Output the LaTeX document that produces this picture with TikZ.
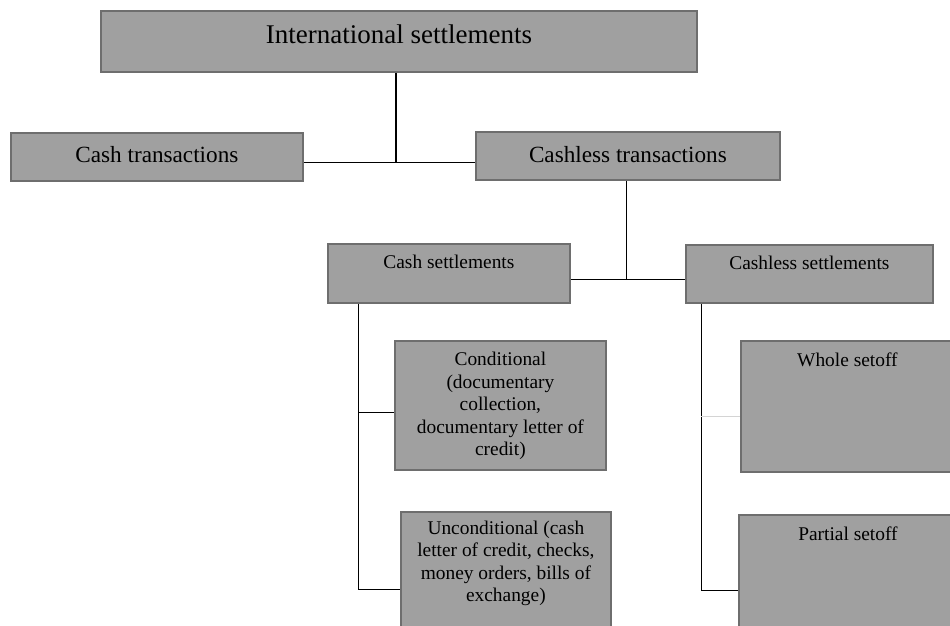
\documentclass[tikz,border=0pt]{standalone}
\usepackage{fontspec}
\setmainfont{Liberation Serif}
\definecolor{boxfill}{HTML}{A0A0A0}
\definecolor{boxline}{HTML}{6E6E6E}
\definecolor{faintline}{HTML}{D4D4D4}
\begin{document}
\begin{tikzpicture}[x=1pt, y=-1pt,
  box/.style={draw=boxline, fill=boxfill, line width=1.8pt, inner sep=0pt, anchor=north west},
  big/.style={inner sep=0pt, anchor=north, font=\fontsize{27}{31}\selectfont},
  mid/.style={inner sep=0pt, anchor=north, font=\fontsize{23.2}{27}\selectfont},
  small/.style={inner sep=0pt, anchor=north, align=center, font=\fontsize{19.4}{22.5}\selectfont},
  link/.style={line width=1pt, black}]
\useasboundingbox (0,0) rectangle (950,625);

% boxes
\node[box, minimum width=596pt, minimum height=61pt,
  label={[big, yshift=-14.6pt]north:International settlements}] (top) at (100,10) {};
\node[box, minimum width=292pt, minimum height=48pt,
  label={[mid, yshift=-14pt]north:Cash transactions}] (cashT) at (10,132) {};
\node[box, minimum width=304pt, minimum height=48pt,
  label={[mid, yshift=-15pt]north:Cashless transactions}] (cashlessT) at (475,131) {};
\node[box, minimum width=242pt, minimum height=59pt,
  label={[small, yshift=-12.3pt]north:Cash settlements}] (cashS) at (327,243) {};
\node[box, minimum width=247pt, minimum height=58pt,
  label={[small, yshift=-12.3pt]north:Cashless settlements}] (cashlessS) at (685,244) {};
\node[box, minimum width=211pt, minimum height=129pt,
  label={[small, yshift=-12pt]north:Conditional\\(documentary\\collection,\\documentary letter of\\credit)}] (cond) at (394,340) {};
\node[box, minimum width=210pt, minimum height=130pt,
  label={[small, yshift=-9.5pt]north:Unconditional (cash\\letter of credit, checks,\\money orders, bills of\\exchange)}] (uncond) at (400,511) {};
\node[box, minimum width=213pt, minimum height=131pt,
  label={[small, yshift=-12.3pt]north:Whole setoff}] (whole) at (740,340) {};
\node[box, minimum width=218pt, minimum height=130pt,
  label={[small, yshift=-13pt]north:Partial setoff}] (partial) at (738,514) {};

% junction points
\coordinate (j1) at (396,162);
\coordinate (j2) at (626,279);
\coordinate (l1) at (358,412);
\coordinate (l2) at (358,589);
\coordinate (r1) at (701,416);
\coordinate (r2) at (701,590);

% connectors
\draw[link, line width=1.6pt] (top.south -| j1) -- (j1);
\draw[link] (cashT.east |- j1) -- (cashlessT.west |- j1);
\draw[link] (cashlessT.south -| j2) -- (j2);
\draw[link] (cashS.east |- j2) -- (cashlessS.west |- j2);
\draw[link] (cashS.south -| l1) -- (l2);
\draw[link] (l1) -- (cond.west |- l1);
\draw[link] (l2) -- (uncond.west |- l2);
\draw[link] (cashlessS.south -| r1) -- (r2);
\draw[link, faintline] (r1) -- (whole.west |- r1);
\draw[link] (r2) -- (partial.west |- r2);
\end{tikzpicture}
\end{document}
